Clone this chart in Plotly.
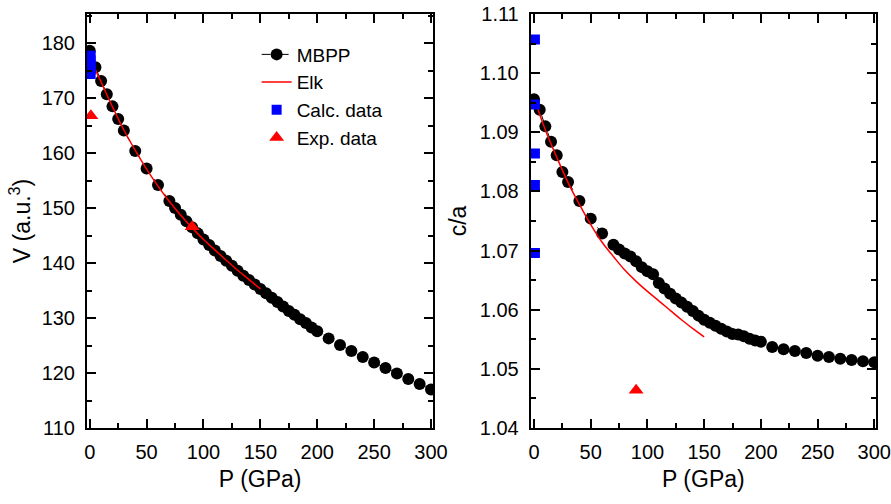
import plotly.graph_objects as go
from plotly.subplots import make_subplots

# MBPP results
p_mbpp = [0, 5, 10, 15, 20, 25, 30, 40, 50, 60, 70, 75, 80, 85, 90, 95, 100, 105, 110, 115,
          120, 125, 130, 135, 140, 145, 150, 155, 160, 165, 170, 175, 180, 185, 190, 195, 200,
          210, 220, 230, 240, 250, 260, 270, 280, 290, 300]
v_mbpp = [178.6, 175.6, 173.1, 170.7, 168.5, 166.2, 164.1, 160.4, 157.2, 154.2, 151.3, 150.0,
          148.8, 147.6, 146.5, 145.4, 144.3, 143.3, 142.3, 141.3, 140.4, 139.5, 138.6, 137.7,
          136.9, 136.1, 135.3, 134.5, 133.7, 132.9, 132.1, 131.3, 130.6, 129.8, 129.1, 128.3,
          127.6, 126.3, 125.1, 124.0, 122.9, 121.9, 120.9, 119.9, 118.9, 118.0, 117.0]
ca_mbpp = [1.0956, 1.0938, 1.0910, 1.0884, 1.0861, 1.0833, 1.0816, 1.0784, 1.0754, 1.0729,
           1.0710, 1.0702, 1.0695, 1.0690, 1.0682, 1.0672, 1.0665, 1.0660, 1.0645, 1.0636,
           1.0627, 1.0619, 1.0612, 1.0605, 1.0598, 1.0590, 1.0583, 1.0578, 1.0573, 1.0568,
           1.0563, 1.0559, 1.0558, 1.0555, 1.0551, 1.0548, 1.0546, 1.0537, 1.0533, 1.0530,
           1.0527, 1.0522, 1.0520, 1.0517, 1.0515, 1.0513, 1.0511]

# Elk results
p_elk = [1, 10, 20, 30, 40, 50, 60, 70, 80, 90, 100, 110, 120, 130, 140, 150]
v_elk = [176.9, 172.9, 168.4, 164.2, 160.5, 157.1, 154.0, 151.2, 148.7, 146.4, 144.3, 142.4,
         140.5, 138.7, 137.0, 135.3]
ca_elk = [1.0952, 1.0904, 1.0858, 1.0815, 1.0778, 1.0744, 1.0714, 1.0690, 1.0667, 1.0648,
          1.0631, 1.0615, 1.0599, 1.0583, 1.0568, 1.0554]

# other calculations
p_calc = [0.8, 0.8, 0.8, 0.8, 0.8]
v_calc = [177.7, 176.9, 176.0, 175.2, 174.4]
ca_calc = [1.1057, 1.0947, 1.0864, 1.0811, 1.0696]

# experiment
p_exp_v = [1, 90]
v_exp = [166.8, 146.6]
p_exp_ca = [90]
ca_exp = [1.0464]

font = "Liberation Sans, Arial, sans-serif"

fig = make_subplots(rows=1, cols=2, horizontal_spacing=0.1)


def add_panel(fig, col, y_mbpp, y_elk, y_calc, px_exp, y_exp, legend):
    fig.add_trace(go.Scatter(x=p_mbpp, y=y_mbpp, name="MBPP", mode="lines+markers",
                             line=dict(color="black", width=1, dash="dash"),
                             marker=dict(color="black", size=12),
                             showlegend=legend), row=1, col=col)
    fig.add_trace(go.Scatter(x=p_elk, y=y_elk, name="Elk", mode="lines",
                             line=dict(color="#ff0000", width=1.5, shape="spline"),
                             showlegend=legend), row=1, col=col)
    fig.add_trace(go.Scatter(x=p_calc, y=y_calc, name="Calc. data", mode="markers",
                             marker=dict(color="#0000ff", symbol="square", size=10),
                             showlegend=legend), row=1, col=col)
    fig.add_trace(go.Scatter(x=px_exp, y=y_exp, name="Exp. data", mode="markers",
                             marker=dict(color="#ff0000", symbol="triangle-up", size=13),
                             showlegend=legend), row=1, col=col)


add_panel(fig, 1, v_mbpp, v_elk, v_calc, p_exp_v, v_exp, True)
add_panel(fig, 2, ca_mbpp, ca_elk, ca_calc, p_exp_ca, ca_exp, False)

axis_style = dict(showline=True, linecolor="black", linewidth=2, mirror="ticks",
                  ticks="inside", ticklen=9, tickwidth=1.5, tickcolor="black",
                  showgrid=False, zeroline=False, automargin=False,
                  tickfont=dict(family=font, size=20, color="black"),
                  title_font=dict(family=font, size=23, color="black"))

fig.update_xaxes(axis_style)
fig.update_yaxes(axis_style)

fig.update_xaxes(dtick=50, tick0=0, minor=dict(dtick=25, ticks="inside", ticklen=5,
                 tickcolor="black", tickwidth=1.5),
                 title_text="P (GPa)", title_standoff=9, ticklabelstandoff=5)
fig.update_xaxes(range=[-2.4, 302], domain=[0, 0.4389], row=1, col=1)
fig.update_xaxes(range=[-2.9, 301.5], domain=[0.5624, 1.0], row=1, col=2)

fig.update_yaxes(range=[110, 185.3], dtick=10, tick0=110,
                 minor=dict(dtick=5, ticks="inside", ticklen=5, tickcolor="black", tickwidth=1.5),
                 title_text="V (a.u.<sup>3</sup>)", title_standoff=5, ticklabelstandoff=6,
                 row=1, col=1)
fig.update_yaxes(range=[1.04, 1.11], dtick=0.01, tick0=1.04, tickformat=".2f",
                 minor=dict(dtick=0.005, ticks="inside", ticklen=5, tickcolor="black", tickwidth=1.5),
                 title_text="c/a", title_standoff=7, ticklabelstandoff=6,
                 row=1, col=2)

fig.update_layout(
    width=891, height=504,
    margin=dict(l=87, r=15, t=14, b=76),
    plot_bgcolor="white", paper_bgcolor="white",
    font=dict(family=font, size=20, color="black"),
    legend=dict(x=0.215, y=0.948, xanchor="left", yanchor="top",
                bgcolor="rgba(0,0,0,0)", font=dict(family=font, size=19),
                tracegroupgap=0),
)

fig.write_html("out.html", config={"displayModeBar": False},
               post_script="document.body.style.margin='0px';")
